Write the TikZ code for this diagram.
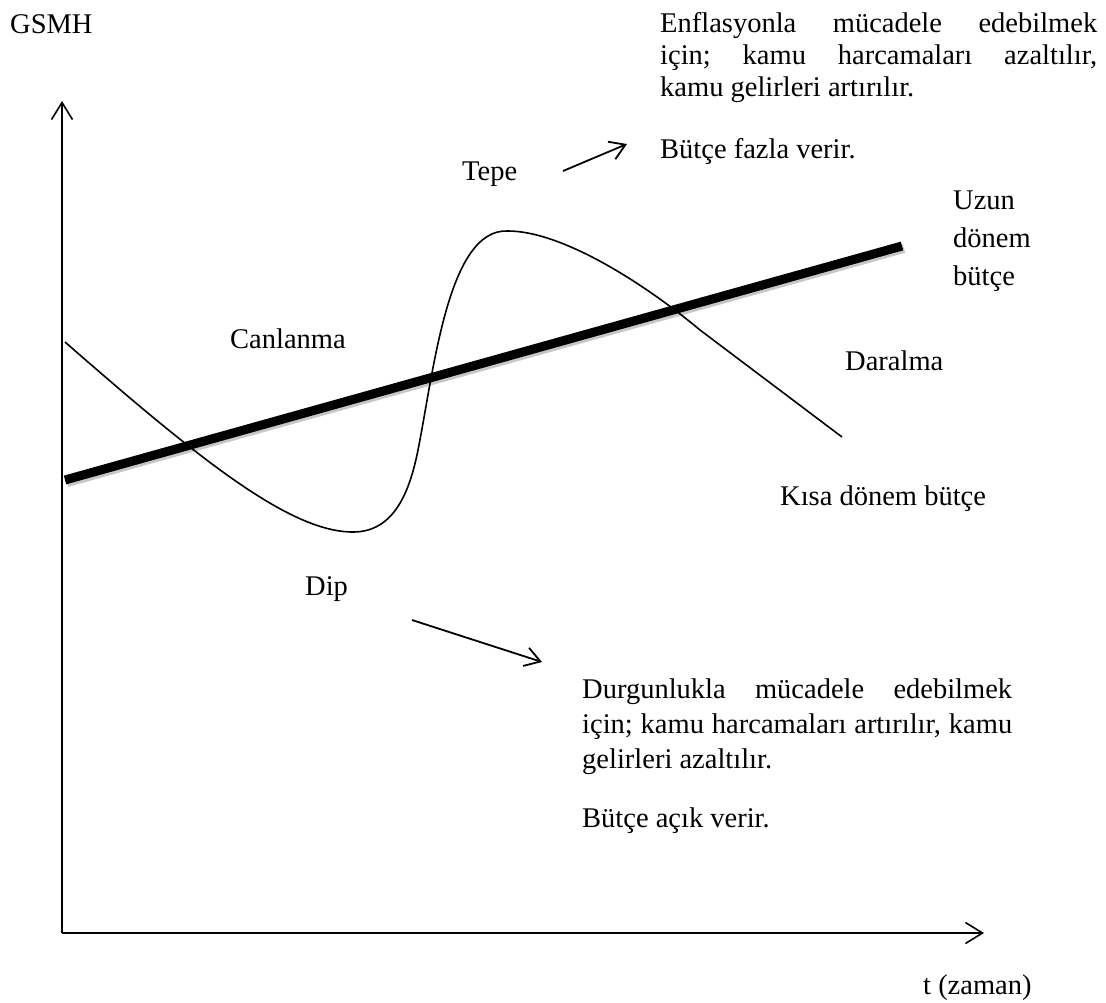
\documentclass[tikz,border=0pt]{standalone}
\usepackage{fontspec}
\setmainfont{Liberation Serif}
\usetikzlibrary{arrows.meta, positioning}

\tolerance=10000
\hyphenpenalty=10000
\frenchspacing

\tikzset{
  axis/.style={line width=1.6pt, -{Straight Barb[length=17pt,width=21pt]}},
  pointer/.style={line width=1.8pt, -{Straight Barb[length=15pt,width=19pt]}},
  longrun/.style={line width=9pt, preaction={draw=black!22, line width=9pt, transform canvas={shift={(2pt,-2.5pt)}}}},
  shortrun/.style={line width=1.6pt},
  label/.style={anchor=base west, inner sep=0pt},
  para/.style={label, align=justify}
}

\begin{document}
\begin{tikzpicture}[x=1pt, y=-1pt, font=\fontsize{28.5}{32}\selectfont\frenchspacing]
    \useasboundingbox (0,0) rectangle (1106,1002);

    % Axes
    \coordinate (O) at (62,933);
    \coordinate (ytop) at (62,101);
    \coordinate (xend) at (984,933);
    \draw[axis] (O) -- (ytop);
    \draw[axis] (O) -- (xend);
    \node[label] (gsmh) at (10,33) {GSMH};
    \node[label] (time) at (923,994) {t (zaman)};

    % Long-run budget
    \coordinate (lr0) at (65,480);
    \coordinate (lr1) at (902,246);
    \draw[longrun] (lr0) -- (lr1);
    \node[label, text width=110pt, align=left, font=\fontsize{28.5}{38}\selectfont] (longlbl) at (953,209) {Uzun\\dönem\\bütçe};

    % Short-run budget (cycle)
    \draw[shortrun] (65,342) .. controls (200,460) and (290,532) .. (353,532)
        .. controls (395,532) and (410,490) .. (418,450)
        .. controls (434,370) and (448,228) .. (508,231)
        .. controls (560,231) and (640,280) .. (700,330) -- (842,437);
    \node[label] (shortlbl) at (780,505) {Kısa dönem bütçe};

    % Phases
    \node[label] (canlanma) at (230,348) {Canlanma};
    \node[label] (tepe) at (462,180) {Tepe};
    \node[label] (daralma) at (845,370) {Daralma};
    \node[label] (dip) at (305,595) {Dip};

    % Peak: surplus
    \coordinate (tepeA) at (563,171);
    \coordinate (tepeB) at (627,144);
    \draw[pointer] (tepeA) -- (tepeB);
    \node[para, text width=437pt] (inflation) at (660,32) {Enflasyonla mücadele edebilmek\linebreak için; kamu harcamaları azaltılır,\linebreak kamu gelirleri artırılır.};
    \node[label] (surplus) at (660,158) {Bütçe fazla verir.};

    % Trough: deficit
    \coordinate (dipA) at (412,620);
    \coordinate (dipB) at (542,662);
    \draw[pointer] (dipA) -- (dipB);
    \node[para, text width=430pt, font=\fontsize{28.5}{35}\selectfont\frenchspacing] (recession) at (582,698) {Durgunlukla mücadele edebilmek\linebreak için; kamu harcamaları artırılır, kamu\linebreak gelirleri azaltılır.};
    \node[label] (deficit) at (582,827) {Bütçe açık verir.};
\end{tikzpicture}
\end{document}
